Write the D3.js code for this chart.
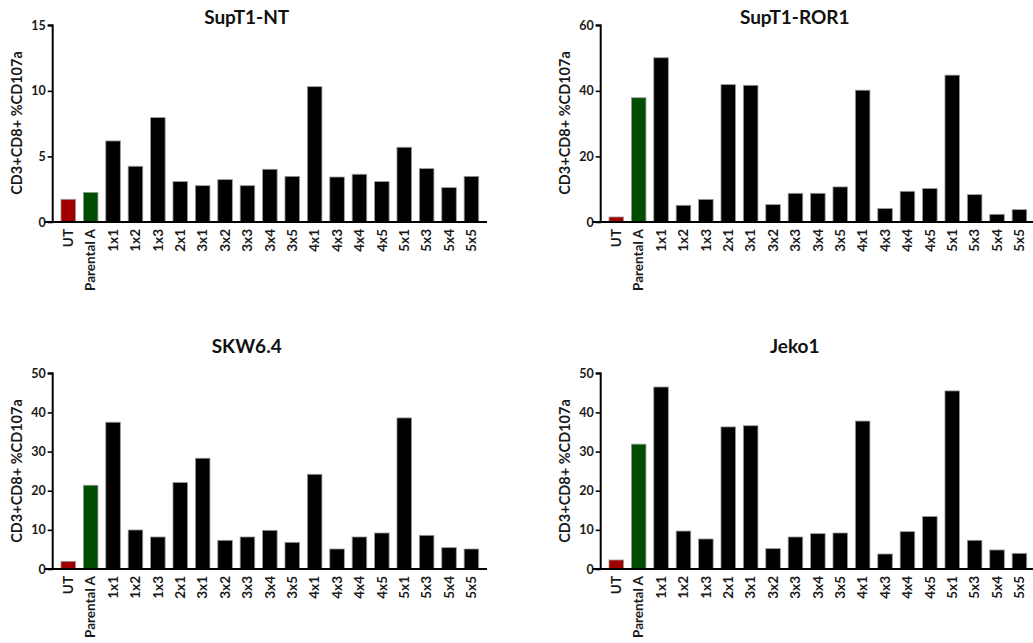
<!DOCTYPE html>
<html>
<head>
<meta charset="utf-8">
<script src="https://cdn.jsdelivr.net/npm/d3@7"></script>
<style>
  html, body { margin: 0; padding: 0; background: #fff; }
  svg { display: block; font-family: Lato, "Open Sans", sans-serif; }
</style>
</head>
<body>
<svg id="chart" width="1033" height="643"></svg>
<script>
const categories = ["UT","Parental A","1x1","1x2","1x3","2x1","3x1","3x2","3x3","3x4","3x5","4x1","4x3","4x4","4x5","5x1","5x3","5x4","5x5"];
const yLabel = "CD3+CD8+ %CD107a";

const titles = ["SupT1-NT", "SupT1-ROR1", "SKW6.4", "Jeko1"];
const yMax = [15, 60, 50, 50];
const yTicks = [[0,5,10,15],[0,20,40,60],[0,10,20,30,40,50],[0,10,20,30,40,50]];

const supT1NT   = [1.73,2.26,6.18,4.25,7.96,3.08,2.77,3.23,2.77,4.02,3.48,10.32,3.43,3.64,3.08,5.70,4.07,2.62,3.48];
const supT1ROR1 = [1.53,37.9,50.1,5.1,6.9,41.9,41.7,5.3,8.75,8.75,10.7,40.2,4.1,9.36,10.2,44.8,8.34,2.34,3.76];
const skw64     = [1.96,21.4,37.5,9.97,8.18,22.1,28.3,7.33,8.18,9.88,6.81,24.2,5.11,8.18,9.2,38.6,8.6,5.45,5.11];
const jeko1     = [2.3,31.9,46.5,9.7,7.67,36.3,36.6,5.2,8.18,9.03,9.2,37.8,3.83,9.54,13.4,45.5,7.33,4.86,4.0];
const seriesList = [supT1NT, supT1ROR1, skw64, jeko1];

const barColors = { "UT": "#a00000", "Parental A": "#004d00" };
const defaultColor = "#000000";

const svg = d3.select("#chart");

const layout = [
  { x0: 52.7,  yTop: 25.3,  yBot: 222 },
  { x0: 600.7, yTop: 25.3,  yBot: 222 },
  { x0: 52.7,  yTop: 373.3, yBot: 569 },
  { x0: 600.7, yTop: 373.3, yBot: 569 }
];
const axisWidth = 434.3;

layout.forEach((L, i) => {
  const g = svg.append("g");
  const x = d3.scaleBand()
    .domain(categories)
    .range([L.x0, L.x0 + axisWidth])
    .paddingInner(0.35)
    .paddingOuter(0.37);
  const y = d3.scaleLinear().domain([0, yMax[i]]).range([L.yBot, L.yTop]);

  g.selectAll("rect.bar")
    .data(categories.map((c, k) => ({ c, v: seriesList[i][k] })))
    .enter().append("rect")
    .attr("class", "bar")
    .attr("x", d => x(d.c))
    .attr("width", x.bandwidth())
    .attr("y", d => y(d.v))
    .attr("height", d => y(0) - y(d.v))
    .attr("fill", d => barColors[d.c] || defaultColor)
    .attr("stroke", "#9a9a9a")
    .attr("stroke-width", 0.8);

  const yAxis = d3.axisLeft(y).tickValues(yTicks[i]).tickSize(5).tickPadding(2).tickFormat(d3.format("d"));
  const ya = g.append("g").attr("transform", `translate(${L.x0},0)`).call(yAxis);
  ya.select(".domain").attr("stroke", "#000").attr("stroke-width", 2).attr("d", `M-5,${L.yTop}H0V${L.yBot}`);
  ya.selectAll(".tick line").attr("stroke", "#000").attr("stroke-width", 1.6);
  ya.selectAll(".tick text").attr("font-size", 12.5).attr("font-weight", 700).attr("fill", "#1a1a1a").attr("font-family", "Lato, sans-serif");

  const xAxis = d3.axisBottom(x).tickSize(0).tickPadding(8);
  const xa = g.append("g").attr("transform", `translate(0,${L.yBot})`).call(xAxis);
  xa.select(".domain").attr("stroke", "#000").attr("stroke-width", 2).attr("d", `M${L.x0 - 8},0H${L.x0 + axisWidth}`);
  xa.selectAll(".tick text")
    .attr("font-size", 13.5).attr("font-weight", 700).attr("fill", "#1a1a1a").attr("font-family", "Lato, sans-serif")
    .attr("transform", "rotate(-90)")
    .attr("text-anchor", "end")
    .attr("x", -7).attr("y", 0).attr("dy", "0.35em");

  g.append("text")
    .attr("x", L.x0 + 194)
    .attr("y", L.yTop - (i < 2 ? 1.5 : 20))
    .attr("text-anchor", "middle")
    .attr("font-size", 19).attr("font-weight", 700).attr("fill", "#111")
    .text(titles[i]);

  g.append("text")
    .attr("transform", `translate(${L.x0 - 36},${i < 2 ? 123 : 471}) rotate(-90)`)
    .attr("text-anchor", "middle")
    .attr("dy", "0.35em")
    .attr("font-size", 14.5).attr("font-weight", 700).attr("fill", "#1a1a1a")
    .text(yLabel);
});
</script>
</body>
</html>
